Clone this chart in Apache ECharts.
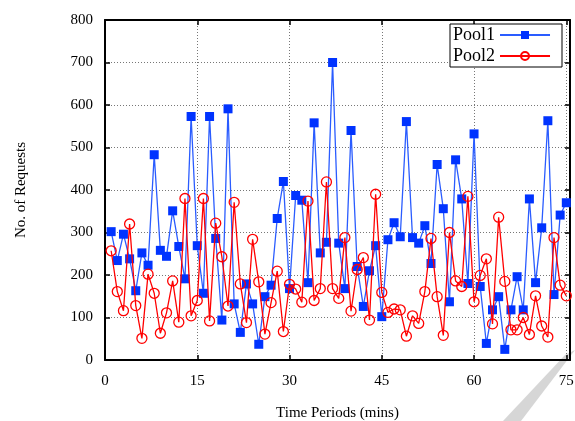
<!DOCTYPE html>
<html>
<head>
<meta charset="utf-8">
<script src="https://cdn.jsdelivr.net/npm/echarts@6/dist/echarts.min.js"></script>
<style>
  html, body { margin: 0; padding: 0; background: #fff; }
  #chart { width: 575px; height: 421px; }
</style>
</head>
<body>
<div id="chart"></div>
<script>
// Requests per time period for the two pools
const periods = Array.from({ length: 75 }, (_, i) => i + 1);
const pool1 = [302,234,296,238,163,252,223,483,258,244,351,267,191,573,269,157,573,286,94,591,
  132,65,179,132,37,149,176,333,420,168,387,376,182,558,252,277,700,275,168,540,
  220,126,210,269,102,283,323,290,561,288,275,316,227,460,356,137,471,379,180,532,
  173,39,118,149,25,118,196,118,379,182,311,563,154,341,370];
const pool2 = [257,161,116,320,128,51,202,157,63,111,186,89,380,104,140,380,92,322,243,127,
  371,179,88,284,184,61,135,209,67,178,167,136,374,140,168,419,168,145,288,115,
  213,241,94,390,159,112,120,118,56,104,86,161,286,149,58,300,186,173,385,137,
  199,238,85,336,185,71,71,100,60,151,80,54,288,176,151];
const xTicks = [0, 15, 30, 45, 60, 75];
const yTicks = [0, 100, 200, 300, 400, 500, 600, 700, 800];

const font = "'Liberation Serif', 'DejaVu Serif', serif";
const xMax = 75.6;

const pairs = (ys) => periods.map((x, i) => [x, ys[i]]);

const gridLine = { show: true, lineStyle: { color: '#777', width: 1, type: [1, 2] } };
const axisLine = { show: true, onZero: false, lineStyle: { color: '#000', width: 2 } };
const tickIn = { show: true, inside: true, length: 5, lineStyle: { color: '#000', width: 1.5 } };

const xBase = { type: 'value', min: 0, max: xMax, interval: 15, axisLine, axisTick: tickIn };
const yBase = { type: 'value', min: yTicks[0], max: yTicks[yTicks.length - 1], interval: 100, axisLine, axisTick: tickIn };

const chart = echarts.init(document.getElementById('chart'), null, { renderer: 'canvas' });
chart.setOption({
  animation: false,
  backgroundColor: '#fff',
  textStyle: { fontFamily: font },
  grid: { left: 105, right: 5, top: 20, bottom: 61, containLabel: false, outerBoundsMode: 'none' },
  legend: {
    left: 450, top: 24,
    orient: 'vertical',
    align: 'right',
    itemWidth: 50, itemHeight: 10, itemGap: 3,
    padding: [2, 11, 2, 3],
    backgroundColor: '#fff',
    borderColor: '#000', borderWidth: 1, borderRadius: 0,
    textStyle: { fontFamily: font, fontSize: 18, color: '#000', lineHeight: 18 },
    data: ['Pool1', 'Pool2']
  },
  xAxis: [
    Object.assign({}, xBase, {
      position: 'bottom',
      name: 'Time Periods (mins)',
      nameLocation: 'middle', nameGap: 46,
      nameTextStyle: { fontFamily: font, fontSize: 15, color: '#000' },
      splitLine: gridLine,
      axisLabel: {
        fontFamily: font, fontSize: 15, color: '#000', margin: 14,
        formatter: (v) => (xTicks.includes(v) ? String(v) : '')
      }
    }),
    Object.assign({}, xBase, { position: 'top', splitLine: { show: false }, axisLabel: { show: false } })
  ],
  yAxis: [
    Object.assign({}, yBase, {
      position: 'left',
      name: 'No. of Requests',
      nameLocation: 'middle', nameGap: 76, nameRotate: 90,
      nameTextStyle: { fontFamily: font, fontSize: 15, color: '#000' },
      splitLine: gridLine,
      axisLabel: { fontFamily: font, fontSize: 15, color: '#000', margin: 12 }
    }),
    Object.assign({}, yBase, { position: 'right', splitLine: { show: false }, axisLabel: { show: false } })
  ],
  series: [
    {
      name: 'Pool1', type: 'line', xAxisIndex: 0, yAxisIndex: 0,
      data: pairs(pool1),
      symbol: 'rect', symbolSize: 9,
      itemStyle: { color: '#0033ff' },
      lineStyle: { color: '#2a5cff', width: 1.3 },
      z: 3
    },
    {
      name: 'Pool2', type: 'line', xAxisIndex: 0, yAxisIndex: 0,
      data: pairs(pool2),
      symbol: 'circle', symbolSize: 10, showAllSymbol: true,
      itemStyle: { color: 'rgba(255,255,255,0)', borderColor: '#ff0000', borderWidth: 1.3 },
      lineStyle: { color: '#ff0000', width: 1.3 },
      z: 4
    }
  ],
  graphic: [
    {
      type: 'polygon', z: -1, silent: true,
      shape: { points: [[565, 355], [575, 350], [521, 421], [503, 421]] },
      style: { fill: '#d6d6d6' }
    }
  ]
});
</script>
</body>
</html>
